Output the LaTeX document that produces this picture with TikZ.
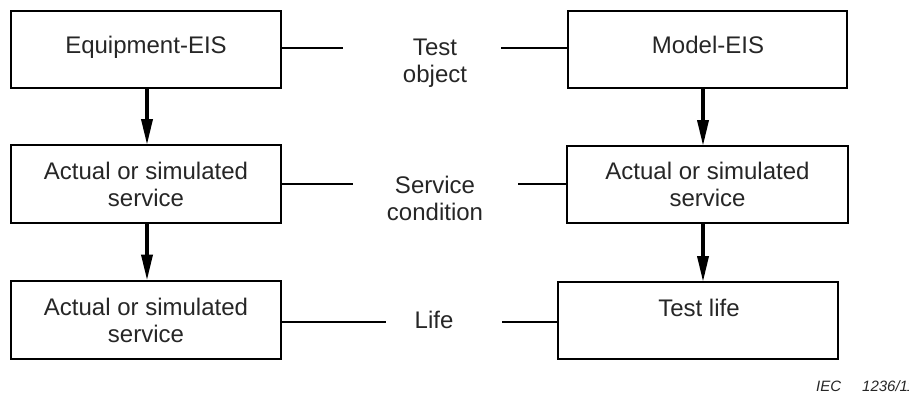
\documentclass[tikz,border=0pt]{standalone}
\usepackage{fontspec}
\setmainfont{Liberation Sans}
\usetikzlibrary{arrows.meta}
\begin{document}
\begin{tikzpicture}[x=1pt,y=-1pt,
  box/.style={draw=black, line width=2pt, minimum width=270pt, minimum height=77pt, inner sep=0pt},
  txt/.style={anchor=base, align=center, inner sep=0pt, text=black!85,
    font=\fontsize{24}{26.8}\selectfont},
  link/.style={line width=2.6pt},
  flow/.style={line width=3.6pt, -{Triangle[length=26pt,width=11pt]}, shorten >=-1pt},
  note/.style={anchor=base west, inner sep=0pt, text=black!85,
    font=\fontsize{15}{17}\selectfont\itshape}]
  \useasboundingbox (0,0) rectangle (909,394);

  % left column: equipment (multi-line labels are placed by their last baseline)
  \node[box] (L1) at (146,49.5) {};
  \node[box, minimum height=78pt] (L2) at (146,184) {};
  \node[box, minimum height=78pt] (L3) at (146,319.5) {};
  \node[txt] (tL1) at (146,53.3) {Equipment-EIS};
  \node[txt] (tL2) at (146,206) {Actual or simulated\\service};
  \node[txt] (tL3) at (146,342) {Actual or simulated\\service};

  % right column: model
  \node[box, minimum width=279pt] (R1) at (707.5,49.5) {};
  \node[box, minimum width=281pt] (R2) at (707.5,184.5) {};
  \node[box, minimum width=280pt] (R3) at (698,320.5) {};
  \node[txt] (tR1) at (708,53.3) {Model-EIS};
  \node[txt] (tR2) at (707.5,206.7) {Actual or simulated\\service};
  \node[txt] (tR3) at (699,316.7) {Test life};

  % middle labels
  \node[txt] (m1) at (435,82) {Test\\object};
  \node[txt] (m2) at (435,220) {Service\\condition};
  \node[txt] (m3) at (434,328) {Life};

  % connector ends
  \coordinate (a1) at (343,48);   \coordinate (b1) at (501,48);
  \coordinate (a2) at (353,184);  \coordinate (b2) at (518,184);
  \coordinate (a3) at (386,322);  \coordinate (b3) at (502,322);
  \coordinate (lx) at (147,0);    \coordinate (rx) at (703,0);

  \draw[link] (L1.east |- a1) -- (a1);  \draw[link] (b1) -- (R1.west |- b1);
  \draw[link] (L2.east |- a2) -- (a2);  \draw[link] (b2) -- (R2.west |- b2);
  \draw[link] (L3.east |- a3) -- (a3);  \draw[link] (b3) -- (R3.west |- b3);

  % downward flow
  \draw[flow] (L1.south -| lx) -- (L2.north -| lx);
  \draw[flow] (L2.south -| lx) -- (L3.north -| lx);
  \draw[flow] (R1.south -| rx) -- (R2.north -| rx);
  \draw[flow] (R2.south -| rx) -- (R3.north -| rx);

  % figure number, running off the right edge
  \node[note] (iec) at (816,391) {IEC\hspace{21pt}1236/11};
\end{tikzpicture}
\end{document}
